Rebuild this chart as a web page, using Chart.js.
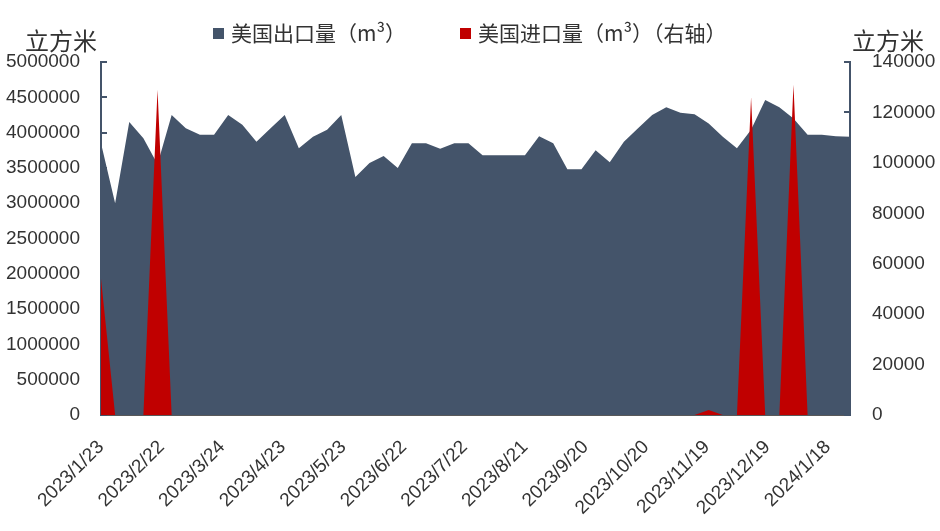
<!DOCTYPE html>
<html>
<head>
<meta charset="utf-8">
<script src="https://cdn.jsdelivr.net/npm/chart.js@4.4.1/dist/chart.umd.min.js"></script>
<style>
  html, body { margin: 0; padding: 0; background: #fff; }
</style>
</head>
<body>
<canvas id="miGrafico" width="940" height="531"></canvas>
<script>
// weekly data
var dates = [
  '2023/1/23','2023/1/30','2023/2/6','2023/2/13','2023/2/20','2023/2/27',
  '2023/3/6','2023/3/13','2023/3/20','2023/3/27','2023/4/3','2023/4/10',
  '2023/4/17','2023/4/24','2023/5/1','2023/5/8','2023/5/15','2023/5/22',
  '2023/5/29','2023/6/5','2023/6/12','2023/6/19','2023/6/26','2023/7/3',
  '2023/7/10','2023/7/17','2023/7/24','2023/7/31','2023/8/7','2023/8/14',
  '2023/8/21','2023/8/28','2023/9/4','2023/9/11','2023/9/18','2023/9/25',
  '2023/10/2','2023/10/9','2023/10/16','2023/10/23','2023/10/30','2023/11/6',
  '2023/11/13','2023/11/20','2023/11/27','2023/12/4','2023/12/11','2023/12/18',
  '2023/12/25','2024/1/1','2024/1/8','2024/1/15','2024/1/22','2024/1/29'
];
var exportVol = [
  3850000, 3000000, 4150000, 3920000, 3550000, 4250000,
  4060000, 3970000, 3970000, 4250000, 4110000, 3870000,
  4060000, 4250000, 3780000, 3940000, 4040000, 4250000,
  3370000, 3570000, 3670000, 3500000, 3850000, 3850000,
  3770000, 3850000, 3850000, 3680000, 3680000, 3680000,
  3680000, 3950000, 3850000, 3480000, 3480000, 3750000,
  3580000, 3870000, 4060000, 4250000, 4360000, 4280000,
  4260000, 4130000, 3940000, 3780000, 4040000, 4460000,
  4360000, 4200000, 3970000, 3970000, 3950000, 3940000
];
var importVol = [
  54000, 0, 0, 0, 129000, 0,
  0, 0, 0, 0, 0, 0,
  0, 0, 0, 0, 0, 0,
  0, 0, 0, 0, 0, 0,
  0, 0, 0, 0, 0, 0,
  0, 0, 0, 0, 0, 0,
  0, 0, 0, 0, 0, 0,
  0, 2000, 0, 0, 126000, 0,
  0, 131000, 0, 0, 0, 0
];
var seriesNames = ['美国出口量（m³）', '美国进口量（m³）（右轴）'];
var unitName = '立方米';

var startDay = Date.UTC(2023, 0, 23);
function dayOf(s) {
  var p = s.split('/');
  return (Date.UTC(+p[0], p[1] - 1, +p[2]) - startDay) / 86400000;
}
function dateLabel(v) {
  var d = new Date(startDay + v * 86400000);
  return d.getUTCFullYear() + '/' + (d.getUTCMonth() + 1) + '/' + d.getUTCDate();
}
var xs = dates.map(dayOf);
var exportPts = xs.map(function(x, i) { return { x: x, y: exportVol[i] }; });
var importPts = xs.map(function(x, i) { return { x: x, y: importVol[i] }; });

var axisColor = '#44546A';
var txtColor = '#333333';
var tickFont = { family: '"Liberation Sans", Arial, sans-serif', size: 19 };
var plainNum = function(v) { return String(v); };

// legend, unit titles and the small inner tick marks
var extras = {
  id: 'extras',
  beforeDatasetsDraw: function(chart) {
    var c = chart.ctx;
    c.save();
    c.strokeStyle = axisColor;
    c.lineWidth = 2;
    ['y', 'y1'].forEach(function(id) {
      var s = chart.scales[id];
      var x0 = id === 'y' ? s.right : s.left;
      var dir = id === 'y' ? 1 : -1;
      s.ticks.forEach(function(t) {
        var py = Math.round(s.getPixelForValue(t.value));
        c.beginPath();
        c.moveTo(x0, py);
        c.lineTo(x0 + dir * 6, py);
        c.stroke();
      });
    });
    c.restore();
  },
  afterDraw: function(chart) {
    var c = chart.ctx;
    c.save();
    c.textBaseline = 'middle';
    c.fillStyle = txtColor;
    c.font = '24px "Noto Sans CJK SC"';
    c.textAlign = 'left';
    c.fillText(unitName, 25, 41);
    c.fillText(unitName, 852, 41);

    var ds = chart.data.datasets;
    var pos = [213, 460];
    c.font = '21px "Noto Sans CJK SC"';
    ds.forEach(function(d, i) {
      c.fillStyle = d.backgroundColor;
      c.fillRect(pos[i], 28, 11, 11);
      c.fillStyle = txtColor;
      c.fillText(d.label, pos[i] + 18, 33);
    });
    c.restore();
  }
};

var ctx = document.getElementById('miGrafico');
var miGrafico = new Chart(ctx, {
  type: 'line',
  data: {
    datasets: [{
      label: seriesNames[0],
      data: exportPts,
      yAxisID: 'y',
      backgroundColor: '#44546A',
      borderWidth: 0,
      fill: 'origin',
      pointRadius: 0,
      tension: 0,
      order: 2
    }, {
      label: seriesNames[1],
      data: importPts,
      yAxisID: 'y1',
      backgroundColor: '#C00000',
      borderWidth: 0,
      fill: 'origin',
      pointRadius: 0,
      tension: 0,
      order: 1
    }]
  },
  options: {
    responsive: false,
    animation: false,
    layout: { padding: { top: 62, left: 0, right: 0, bottom: 0 } },
    plugins: {
      legend: { display: false },
      tooltip: { enabled: false }
    },
    scales: {
      x: {
        type: 'linear',
        min: 0,
        max: xs[xs.length - 1],
        grid: { display: false, drawTicks: false },
        border: { color: '#595959', width: 1 },
        ticks: {
          stepSize: 30,
          includeBounds: false,
          autoSkip: false,
          maxRotation: 45,
          minRotation: 45,
          padding: 21,
          color: txtColor,
          font: tickFont,
          callback: function(v) { return dateLabel(v); }
        },
        afterFit: function(s) { s.height = 116; }
      },
      y: {
        position: 'left',
        min: 0,
        max: 5000000,
        grid: { display: false, drawTicks: false },
        border: { color: axisColor, width: 2 },
        ticks: {
          stepSize: 500000,
          padding: 21,
          color: txtColor,
          font: tickFont,
          callback: plainNum
        },
        afterFit: function(s) { s.width = 101; }
      },
      y1: {
        position: 'right',
        min: 0,
        max: 140000,
        grid: { display: false, drawTicks: false },
        border: { color: axisColor, width: 2 },
        ticks: {
          stepSize: 20000,
          padding: 22,
          color: txtColor,
          font: tickFont,
          callback: plainNum
        },
        afterFit: function(s) { s.width = 90; }
      }
    }
  },
  plugins: [extras]
});
</script>
</body>
</html>
